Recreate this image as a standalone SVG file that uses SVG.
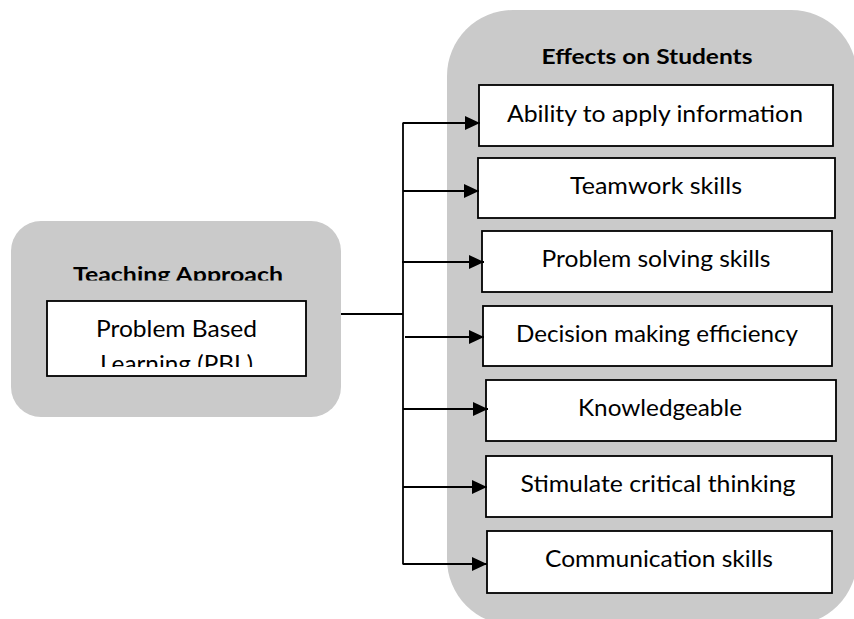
<svg xmlns="http://www.w3.org/2000/svg" width="854" height="619" viewBox="0 0 854 619">
<style>
.panel{fill:#cacaca;}
.box{fill:#fff;stroke:#000;stroke-width:1.8;}
.t{font-family:Lato,"Open Sans","Liberation Sans",sans-serif;font-size:22.5px;fill:#000;text-anchor:middle;}
.h{font-family:Lato,"Open Sans","Liberation Sans",sans-serif;font-size:20px;font-weight:bold;fill:#000;text-anchor:middle;}
.c{fill:none;stroke:#000;stroke-width:1.8;}
</style>
<defs>
<marker id="ah" markerUnits="userSpaceOnUse" markerWidth="16" markerHeight="14" refX="15" refY="7" orient="auto">
<path d="M0,0 L15,7 L0,14 z" fill="#000"/>
</marker>
<clipPath id="clipTA"><rect x="0" y="240" width="360" height="40.5"/></clipPath>
<clipPath id="clipPBL"><rect x="48" y="302" width="257" height="65"/></clipPath>
</defs>
<g id="teaching-approach">
<rect class="panel" x="11" y="221" width="330" height="196" rx="30" ry="30"/>
<text class="h" x="178" y="282" textLength="210" lengthAdjust="spacingAndGlyphs" clip-path="url(#clipTA)">Teaching Approach</text>
</g>
<g id="pbl">
<rect class="box" x="47" y="301" width="259" height="75"/>
<g clip-path="url(#clipPBL)">
<text class="t" style="font-size:23px" x="176.5" y="337" textLength="161" lengthAdjust="spacingAndGlyphs">Problem Based</text>
<text class="t" style="font-size:23px" x="176.5" y="372" textLength="153" lengthAdjust="spacingAndGlyphs">Learning (PBL)</text>
</g>
</g>
<g id="effects-on-students">
<rect class="panel" x="447" y="10" width="410" height="615" rx="66" ry="66"/>
<text class="h" x="647" y="64" textLength="211" lengthAdjust="spacingAndGlyphs">Effects on Students</text>
</g>
<g id="e1"><rect class="box" x="479" y="85" width="354" height="61"/><text class="t" x="655" y="122" textLength="296" lengthAdjust="spacingAndGlyphs">Ability to apply information</text></g>
<g id="e2"><rect class="box" x="478" y="158" width="357" height="60"/><text class="t" x="656" y="194" textLength="172" lengthAdjust="spacingAndGlyphs">Teamwork skills</text></g>
<g id="e3"><rect class="box" x="482" y="231" width="350" height="61"/><text class="t" x="656" y="267" textLength="229" lengthAdjust="spacingAndGlyphs">Problem solving skills</text></g>
<g id="e4"><rect class="box" x="483" y="306" width="349" height="60"/><text class="t" x="657" y="342" textLength="282" lengthAdjust="spacingAndGlyphs">Decision making efficiency</text></g>
<g id="e5"><rect class="box" x="486" y="380" width="350" height="61"/><text class="t" x="660" y="416" textLength="164" lengthAdjust="spacingAndGlyphs">Knowledgeable</text></g>
<g id="e6"><rect class="box" x="486" y="456" width="346" height="61"/><text class="t" x="658" y="492" textLength="275" lengthAdjust="spacingAndGlyphs">Stimulate critical thinking</text></g>
<g id="e7"><rect class="box" x="487" y="531" width="345" height="62"/><text class="t" x="659" y="567" textLength="228" lengthAdjust="spacingAndGlyphs">Communication skills</text></g>
<g id="connectors">
<line class="c" x1="341" y1="314" x2="403" y2="314"/>
<line class="c" x1="403" y1="122.5" x2="403" y2="564.5"/>
<line class="c" x1="403" y1="123" x2="480" y2="123" marker-end="url(#ah)"/>
<line class="c" x1="403" y1="191" x2="479" y2="191" marker-end="url(#ah)"/>
<line class="c" x1="402" y1="262" x2="484" y2="262" marker-end="url(#ah)"/>
<line class="c" x1="405" y1="337" x2="484" y2="337" marker-end="url(#ah)"/>
<line class="c" x1="403" y1="409" x2="488" y2="409" marker-end="url(#ah)"/>
<line class="c" x1="403" y1="487" x2="487" y2="487" marker-end="url(#ah)"/>
<line class="c" x1="403" y1="564" x2="487" y2="564" marker-end="url(#ah)"/>
</g>
</svg>
